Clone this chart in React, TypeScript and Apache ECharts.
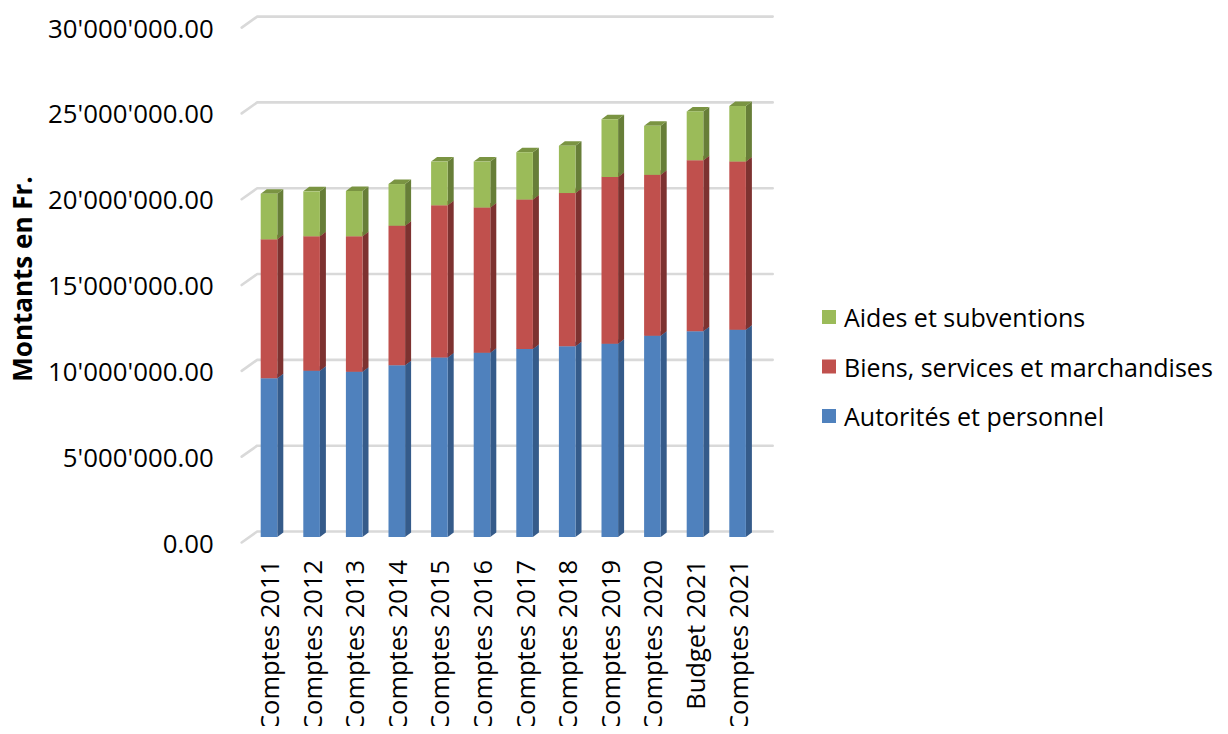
import React, { useEffect, useRef } from "react";
import * as echarts from "echarts";

// Charges par nature (en Fr.)
const categories = [
  "Comptes 2011",
  "Comptes 2012",
  "Comptes 2013",
  "Comptes 2014",
  "Comptes 2015",
  "Comptes 2016",
  "Comptes 2017",
  "Comptes 2018",
  "Comptes 2019",
  "Comptes 2020",
  "Budget 2021",
  "Comptes 2021",
];

const autorites = [
  9330000, 9760000, 9700000, 10090000, 10550000, 10830000, 11040000, 11200000,
  11350000, 11820000, 12090000, 12170000,
];
const biens = [
  8160000, 7910000, 7970000, 8200000, 8940000, 8530000, 8790000, 9010000,
  9800000, 9460000, 10050000, 9890000,
];
const aides = [
  2680000, 2640000, 2660000, 2450000, 2570000, 2700000, 2780000, 2780000,
  3400000, 2880000, 2870000, 3260000,
];

const yTicks = [0, 5000000, 10000000, 15000000, 20000000, 25000000, 30000000];

const Y_MAX = 30000000;
const Y_STEP = 5000000;

// depth offsets of the pseudo-3D boxes and of the back wall
const BAR_DX = 6;
const BAR_DY = -4.5;
const WALL_DX = 15.5;
const WALL_DY = -11;
const BAR_W = 16.6;

const FONT = "'Open Sans', 'Noto Sans', sans-serif";

function formatFr(v: number): string {
  const [int, dec] = v.toFixed(2).split(".");
  return int.replace(/\B(?=(\d{3})+(?!\d))/g, "'") + "." + dec;
}

type Shade = { front: string; side: string; top: string };

const shades: Record<string, Shade> = {
  autorites: { front: "#4f81bd", side: "#355b8a", top: "#3f6aa0" },
  biens: { front: "#c0504d", side: "#7d3230", top: "#9a3e3b" },
  aides: { front: "#9bbb59", side: "#677e38", top: "#7a9442" },
};

function boxSeries(name: string, values: number[], base: number[], shade: Shade) {
  const data = values.map((v, i) => [i, base[i], base[i] + v]);
  return {
    type: "custom",
    name,
    xAxisIndex: 0,
    yAxisIndex: 0,
    itemStyle: { color: shade.front },
    encode: { x: 0, y: 2 },
    data,
    renderItem: (_params: any, api: any) => {
      const idx = api.value(0);
      const lo = api.coord([idx, api.value(1)]);
      const hi = api.coord([idx, api.value(2)]);
      const x0 = lo[0] - BAR_W / 2;
      const x1 = lo[0] + BAR_W / 2;
      const yb = lo[1];
      const yt = hi[1];
      return {
        type: "group",
        children: [
          {
            type: "polygon",
            shape: {
              points: [
                [x1, yb],
                [x1 + BAR_DX, yb + BAR_DY],
                [x1 + BAR_DX, yt + BAR_DY],
                [x1, yt],
              ],
            },
            style: { fill: shade.side },
          },
          {
            type: "polygon",
            shape: {
              points: [
                [x0, yt],
                [x1, yt],
                [x1 + BAR_DX, yt + BAR_DY],
                [x0 + BAR_DX, yt + BAR_DY],
              ],
            },
            style: { fill: shade.top },
          },
          {
            type: "rect",
            shape: { x: x0, y: yt, width: BAR_W, height: yb - yt },
            style: { fill: shade.front },
          },
        ],
      };
    },
  };
}

export default function App() {
  const ref = useRef<HTMLDivElement>(null);

  useEffect(() => {
    if (!ref.current) return;
    const chart = echarts.init(ref.current, undefined, { renderer: "svg" });

    const base0 = autorites.map(() => 0);
    const base1 = autorites.slice();
    const base2 = autorites.map((v, i) => v + biens[i]);

    const option: any = {
      animation: false,
      backgroundColor: "#ffffff",
      textStyle: { fontFamily: FONT },
      grid: [
        // bar plane (front of the floor)
        { left: 247.7, width: 511.2, top: 26.5, height: 514.5 },
        // back wall
        { left: 257.2, width: 515.5, top: 16.6, height: 514.9 },
        // front edge carrying the value labels
        { left: 241.7, width: 515.5, top: 27.6, height: 514.9 },
      ],
      xAxis: [
        {
          type: "category",
          gridIndex: 0,
          data: categories,
          boundaryGap: true,
          axisLine: { show: false },
          axisTick: { show: false },
          axisLabel: {
            rotate: 90,
            margin: 23,
            fontSize: 25.5,
            color: "#000000",
            fontFamily: FONT,
            interval: 0,
          },
        },
        { type: "value", gridIndex: 1, min: 0, max: 1, show: false },
        { type: "value", gridIndex: 2, min: 0, max: 1, show: false },
      ],
      yAxis: [
        { type: "value", gridIndex: 0, min: 0, max: Y_MAX, show: false },
        {
          type: "value",
          gridIndex: 1,
          min: 0,
          max: Y_MAX,
          interval: Y_STEP,
          axisLine: { show: false },
          axisTick: { show: false },
          axisLabel: { show: false },
          splitLine: { show: false },
        },
        {
          type: "value",
          gridIndex: 2,
          min: 0,
          max: Y_MAX,
          interval: Y_STEP,
          axisLine: { show: false },
          axisTick: { show: false },
          splitLine: { show: false },
          axisLabel: {
            margin: 28,
            fontSize: 25.8,
            color: "#000000",
            fontFamily: FONT,
            formatter: (v: number) => formatFr(v),
          },
        },
      ],
      legend: {
        orient: "vertical",
        left: 822,
        top: 302,
        padding: 0,
        itemWidth: 14,
        itemHeight: 14,
        itemGap: 19.5,
        icon: "rect",
        data: ["Aides et subventions", "Biens, services et marchandises", "Autorités et personnel"],
        textStyle: { fontSize: 25, color: "#000000", fontFamily: FONT, lineHeight: 30, padding: [0, 0, 0, 3] },
      },
      graphic: [
        {
          type: "text",
          x: 22,
          y: 279,
          rotation: Math.PI / 2,
          style: {
            text: "Montants en Fr.",
            fontSize: 26,
            fontWeight: "bold",
            fontFamily: FONT,
            fill: "#000000",
            align: "center",
            verticalAlign: "middle",
          },
        },
      ],
      series: [
        {
          type: "custom",
          name: "grid",
          xAxisIndex: 1,
          yAxisIndex: 1,
          silent: true,
          z: 0,
          encode: { x: 0, y: 1 },
          data: yTicks.map((v) => [0, v]),
          renderItem: (_params: any, api: any) => {
            const left = api.coord([0, api.value(1)]);
            const right = api.coord([1, api.value(1)]);
            return {
              type: "polyline",
              shape: {
                points: [
                  [left[0] - WALL_DX, left[1] - WALL_DY],
                  left,
                  right,
                ],
              },
              style: { stroke: "#d9d9d9", lineWidth: 2.6, fill: null, lineJoin: "round", lineCap: "round" },
            };
          },
        },
        boxSeries("Autorités et personnel", autorites, base0, shades.autorites),
        boxSeries("Biens, services et marchandises", biens, base1, shades.biens),
        boxSeries("Aides et subventions", aides, base2, shades.aides),
      ],
    };

    chart.setOption(option);
    return () => chart.dispose();
  }, []);

  return <div ref={ref} style={{ width: 1228, height: 734, margin: -8 }} />;
}
